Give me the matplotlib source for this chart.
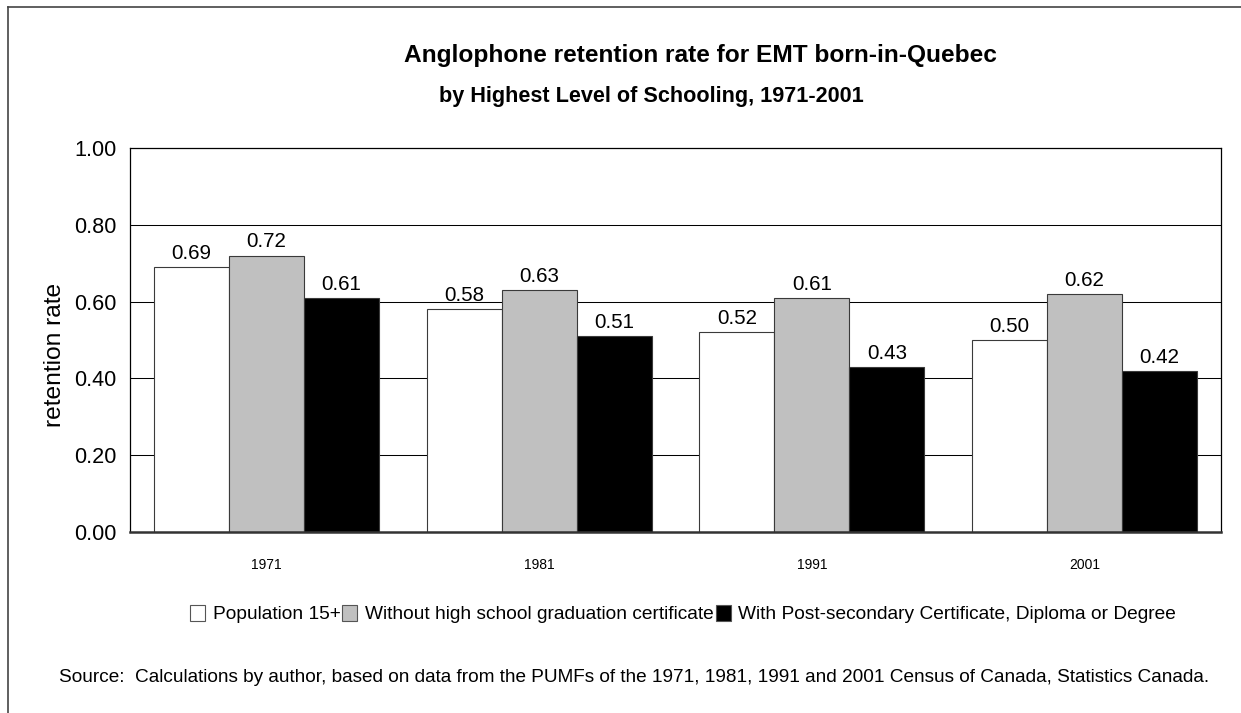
import numpy as np
import matplotlib
matplotlib.use("Agg")
import matplotlib.pyplot as plt
from matplotlib import font_manager
from matplotlib.patches import Patch
from matplotlib.lines import Line2D

years = ["1971", "1981", "1991", "2001"]
pop15 = [0.69, 0.58, 0.52, 0.50]
no_hs = [0.72, 0.63, 0.61, 0.62]
post_sec = [0.61, 0.51, 0.43, 0.42]
series_names = ["Population 15+",
                "Without high school graduation certificate",
                "With Post-secondary Certificate, Diploma or Degree"]
yticks = [0.0, 0.2, 0.4, 0.6, 0.8, 1.0]

title1 = "Anglophone retention rate for EMT born-in-Quebec"
title2 = "by Highest Level of Schooling, 1971-2001"
source = ("Source:  Calculations by author, based on data from the PUMFs of the "
          "1971, 1981, 1991 and 2001 Census of Canada, Statistics Canada.")

# narrow font if we have it, otherwise shrink regular Arial-like sizes
names = {f.name for f in font_manager.fontManager.ttflist}
if "Liberation Sans Narrow" in names:
    FONT, k = "Liberation Sans Narrow", 1.0
else:
    FONT, k = "Liberation Sans", 0.82
plt.rcParams["font.family"] = [FONT, "DejaVu Sans"]

W, H = 1241, 713
def fx(px): return px / W
def fy(py): return 1 - py / H

fig = plt.figure(figsize=(W / 100, H / 100), dpi=100)
ax = fig.add_axes([fx(130), fy(532), (1221 - 130) / W, (532 - 148) / H])

fills = ["white", "#c0c0c0", "black"]
x = np.arange(len(years))
bw = 0.275
for i, (vals, c) in enumerate(zip([pop15, no_hs, post_sec], fills)):
    bars = ax.bar(x + (i - 1) * bw, vals, bw, color=c, edgecolor="#3a3a3a",
                  linewidth=0.8, zorder=3)
    for b, v in zip(bars, vals):
        ax.annotate(f"{v:.2f}", (b.get_x() + b.get_width() / 2, v),
                    xytext=(0, 3), textcoords="offset points",
                    ha="center", va="bottom", fontsize=18 * k)

ax.set_xlim(-0.5, 3.5)
ax.set_ylim(0, 1)
ax.set_yticks(yticks)
ax.set_yticklabels([f"{t:.2f}" for t in yticks], fontsize=19 * k)
ax.set_xticks(x)
ax.set_xticklabels(years, fontsize=12.2 * k)
ax.tick_params(axis="y", length=0, pad=9.5)
ax.tick_params(axis="x", length=0, pad=19)

for t in yticks[1:-1]:
    ax.axhline(t, color="black", lw=0.75, zorder=1)
for s in ["left", "top", "right"]:
    ax.spines[s].set_color("black")
    ax.spines[s].set_linewidth(0.9)
ax.spines["bottom"].set_color("#333333")
ax.spines["bottom"].set_linewidth(1.8)
ax.spines["bottom"].set_zorder(4)

fig.text(fx(55), fy(355), "retention rate", rotation=90, ha="center",
         va="center", fontsize=21.5 * k)

fig.text(fx(700), fy(62), title1, ha="center", va="baseline",
         fontsize=21.5 * k, weight="bold")
fig.text(fx(651), fy(102), title2, ha="center", va="baseline",
         fontsize=19 * k, weight="bold")

handles = [Patch(facecolor=c, edgecolor="#555555", lw=0.8) for c in fills]
fig.legend(handles, series_names, loc="center",
           bbox_to_anchor=(fx(683), fy(614)), ncol=3, frameon=False,
           fontsize=16.8 * k, handlelength=0.78, handleheight=0.95,
           handletextpad=0.4, columnspacing=0.1, borderpad=0,
           borderaxespad=0)

fig.text(fx(634), fy(678), source, ha="center", va="center",
         fontsize=16.7 * k)

# outer frame (only left and top edges are visible in the crop)
fig.add_artist(Line2D([fx(8), fx(8)], [fy(7), 0], color="#444444", lw=1.2,
                      transform=fig.transFigure))
fig.add_artist(Line2D([fx(8), 1], [fy(7), fy(7)], color="#444444", lw=1.2,
                      transform=fig.transFigure))

fig.savefig("out.png", dpi=100)
